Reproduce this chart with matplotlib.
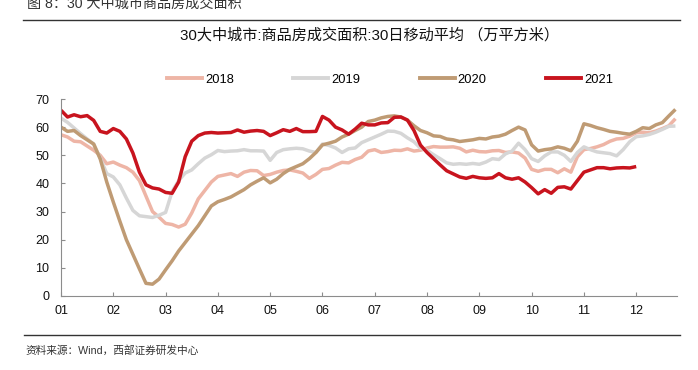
import numpy as np
import matplotlib
matplotlib.use("Agg")
import matplotlib.pyplot as plt
from matplotlib.lines import Line2D

plt.rcParams["font.family"] = ["Liberation Sans", "Noto Sans CJK SC", "DejaVu Sans"]

# 30-day moving average, sampled every 1/8 month (x = month index from Jan)
month_labels = ["01", "02", "03", "04", "05", "06", "07", "08", "09", "10", "11", "12"]
years = ["2018", "2019", "2020", "2021"]

s2018 = [57.3, 56.5, 55.0, 54.8, 53.3, 51.8, 50.0, 47.0, 47.6, 46.5, 45.6, 44.0, 41.0,
         35.5, 30.0, 28.0, 25.8, 25.4, 24.5, 25.5, 29.5, 34.5, 37.5, 40.5, 42.5,
         43.0, 43.5, 42.5, 44.0, 44.6, 44.5, 42.8, 43.2, 44.0, 44.6, 44.8, 44.3,
         43.7, 41.8, 43.2, 45.0, 45.3, 46.5, 47.5, 47.3, 48.5, 49.3, 51.5, 52.0,
         51.0, 51.3, 51.8, 51.7, 52.3, 51.5, 51.8, 52.6, 53.1, 52.9, 52.9, 53.0,
         52.5, 51.2, 51.8, 51.3, 51.2, 51.6, 51.7, 51.0, 51.2, 50.8, 49.0, 45.0,
         44.3, 45.0, 45.0, 43.8, 45.2, 44.0, 49.5, 52.0, 52.4, 53.0, 53.8, 55.0,
         55.8, 56.0, 56.8, 58.0, 58.2, 58.0, 58.6, 59.5, 60.5, 63.0]
s2019 = [63.2, 61.7, 59.7, 57.7, 55.8, 54.0, 49.0, 43.5, 42.3, 39.5, 34.8, 30.4, 28.5,
         28.2, 27.9, 28.7, 29.7, 37.1, 41.0, 43.7, 44.8, 47.0, 49.0, 50.2, 51.7,
         51.3, 51.5, 51.6, 52.0, 51.6, 51.6, 51.5, 48.2, 51.0, 52.0, 52.3, 52.5,
         52.3, 51.5, 51.0, 54.0, 53.5, 52.6, 51.0, 52.3, 52.6, 54.5, 55.5, 56.5,
         57.5, 58.6, 58.5, 57.8, 56.2, 54.8, 52.5, 51.8, 50.2, 48.8, 47.3, 46.8,
         47.0, 46.8, 47.1, 46.8, 47.6, 48.8, 48.5, 50.5, 51.5, 54.3, 52.0, 48.8,
         47.8, 49.8, 51.2, 51.2, 50.0, 47.8, 51.0, 53.0, 52.0, 51.2, 50.9, 50.6,
         49.8, 52.0, 54.8, 56.6, 56.9, 57.4, 58.2, 59.2, 60.3, 60.4]
s2020 = [60.0, 58.5, 58.8, 57.0, 55.5, 54.0, 48.7, 40.5, 33.4, 26.6, 20.0, 14.8, 9.6,
         4.5, 4.2, 6.0, 9.3, 12.5, 16.0, 19.0, 22.0, 25.0, 28.5, 32.0, 33.5,
         34.3, 35.2, 36.5, 37.8, 39.5, 40.8, 42.0, 40.2, 41.5, 43.5, 45.0, 46.0,
         47.0, 48.8, 51.0, 53.7, 54.3, 55.0, 56.5, 57.5, 58.8, 60.0, 62.0, 62.5,
         63.3, 63.8, 64.0, 63.6, 62.5, 60.5, 58.8, 58.0, 56.9, 56.7, 55.8, 55.5,
         54.9, 55.2, 55.5, 56.0, 55.8, 56.5, 56.8, 57.5, 58.8, 60.0, 59.0, 53.7,
         51.5, 52.0, 52.3, 53.0, 52.5, 51.6, 55.0, 61.2, 60.6, 59.8, 59.2, 58.5,
         58.2, 57.8, 57.5, 58.5, 59.8, 59.5, 60.8, 61.6, 64.0, 66.3]
s2021 = [66.0, 63.6, 64.4, 63.7, 64.1, 62.4, 58.5, 57.9, 59.5, 58.5, 55.8, 50.8, 44.0,
         39.5, 38.4, 38.0, 36.8, 36.5, 40.5, 49.5, 55.0, 57.0, 57.9, 58.1, 57.9,
         58.0, 58.1, 59.0, 58.2, 58.6, 58.8, 58.5, 57.0, 58.0, 59.1, 58.5, 59.5,
         58.4, 58.4, 58.5, 63.8, 62.5, 60.0, 59.0, 57.5, 59.3, 61.4, 60.8, 60.8,
         61.5, 61.6, 63.5, 63.6, 62.5, 58.8, 53.6, 51.0, 48.8, 46.6, 44.5, 43.4,
         42.3, 41.8, 42.5, 42.0, 41.8, 42.0, 43.5, 42.0, 41.5, 42.0, 40.5, 38.5,
         36.3, 37.8, 36.5, 38.6, 38.8, 38.0, 41.0, 44.0, 44.8, 45.6, 45.6, 45.2,
         45.5, 45.6, 45.5, 46.0]

series = [s2018, s2019, s2020, s2021]
colors = ["#EEB5A6", "#D6D6D6", "#BF9B74", "#C8141E"]

fig = plt.figure(figsize=(6.98, 3.70), dpi=100)
ax = fig.add_axes([61 / 698, 74 / 370, 616 / 698, 197 / 370])

for vals, c in zip(series, colors):
    x = np.arange(len(vals)) / 8
    ax.plot(x, vals, color=c, lw=2.5, solid_capstyle="butt")

ax.set_xlim(0, 11.78)
ax.set_ylim(0, 70)
ax.set_xticks(range(12))
ax.set_xticklabels(month_labels)
ax.set_yticks(range(0, 71, 10))
for s in ("top", "right"):
    ax.spines[s].set_visible(False)
for s in ("left", "bottom"):
    ax.spines[s].set_color("#8C8C8C")
    ax.spines[s].set_linewidth(0.8)
ax.tick_params(axis="both", direction="in", length=3, color="#8C8C8C",
               labelsize=9, labelcolor="#111111")
ax.tick_params(axis="x", pad=6.5)
ax.tick_params(axis="y", pad=8.5)

handles = [Line2D([], [], color=c, lw=2.8) for c in colors]
fig.legend(handles, years, loc="center", bbox_to_anchor=(390 / 698, 1 - 80 / 370),
           ncol=4, frameon=False, fontsize=9.3, handlelength=2.7,
           handletextpad=0.25, columnspacing=4.6, borderpad=0)

fig.text(369 / 698, 1 - 35 / 370, "30大中城市:商品房成交面积:30日移动平均 （万平方米）",
         ha="center", va="center", fontsize=10.9, color="#111111")

# report header (clipped at top, as in the source page) and footer
fig.text(27 / 698, 1 - 3.5 / 370, "图 8：30 大中城市商品房成交面积",
         ha="left", va="center", fontsize=10.2, color="#333333")
fig.add_artist(Line2D([23 / 698, 680 / 698], [1 - 19.5 / 370] * 2,
                      color="#333333", lw=1.0))
fig.add_artist(Line2D([24 / 698, 680 / 698], [1 - 335 / 370] * 2,
                      color="#333333", lw=1.0))
fig.text(25 / 698, 1 - 351 / 370, "资料来源：Wind，西部证券研发中心",
         ha="left", va="center", fontsize=7.7, color="#333333")

fig.savefig("out.png", dpi=100)
